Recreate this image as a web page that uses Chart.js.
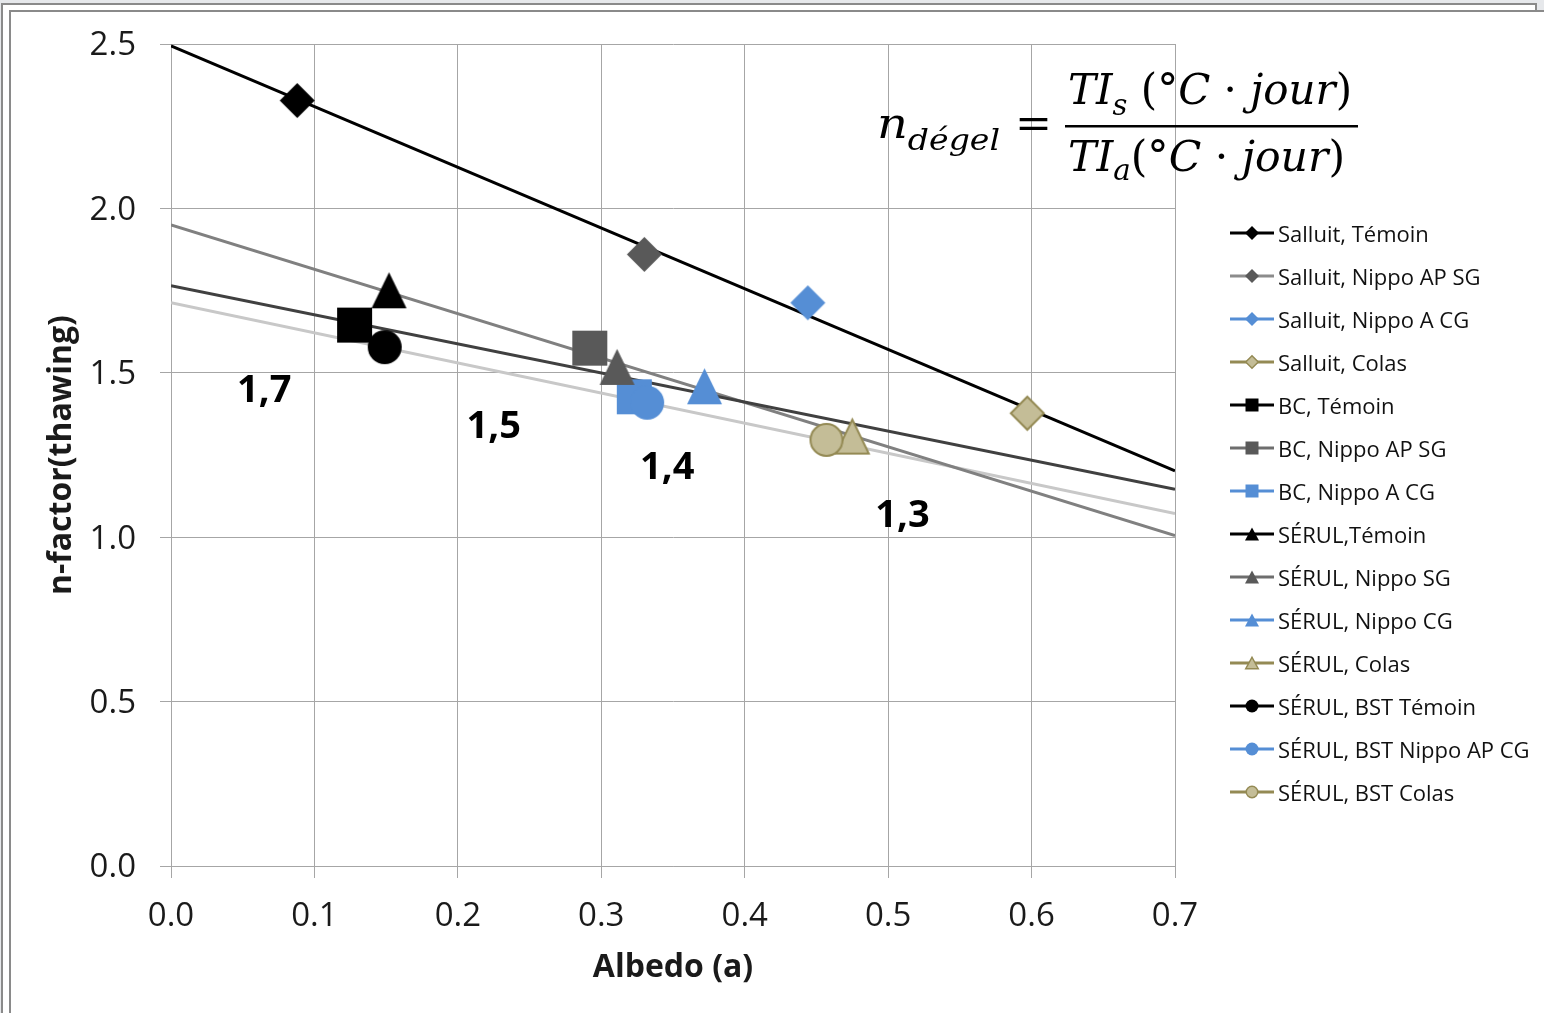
<!DOCTYPE html>
<html lang="fr">
<head>
<meta charset="utf-8">
<title>n-factor (thawing) vs albedo</title>
<script src="https://cdn.jsdelivr.net/npm/chart.js@4.4.1/dist/chart.umd.min.js"></script>
<style>
  html, body { margin: 0; padding: 0; width: 1544px; height: 1013px; overflow: hidden; background: #e6e8eb; font-family: 'Open Sans', sans-serif; }
  #frame-outer { position: absolute; left: 1px; top: 3px; width: 1532px; height: 1030px; border: 2px solid #8a8a8a; background: #fff; }
  #frame-inner { position: absolute; left: 9px; top: 10px; width: 1560px; height: 1030px; border: 2px solid #8a8a8a; background: #fff; }
  #chart { position: absolute; left: 0; top: 0; }
  #legend { position: absolute; left: 1230px; top: 211px; margin: 0; padding: 0; list-style: none; }
  #legend li { height: 43px; display: flex; align-items: center; font-size: 22px; color: #111; white-space: nowrap; }
  #legend canvas { margin-right: 4px; }
</style>
</head>
<body>
<div id="frame-outer"></div>
<div id="frame-inner"></div>
<canvas id="chart" width="1544" height="1013"></canvas>
<ul id="legend"></ul>
<script>
// ── Data ──
const seriesNames = [
  'Salluit, Témoin', 'Salluit, Nippo AP SG', 'Salluit, Nippo A CG', 'Salluit, Colas',
  'BC, Témoin', 'BC, Nippo AP SG', 'BC, Nippo A CG',
  'SÉRUL,Témoin', 'SÉRUL, Nippo SG', 'SÉRUL, Nippo CG', 'SÉRUL, Colas',
  'SÉRUL, BST Témoin', 'SÉRUL, BST Nippo AP CG', 'SÉRUL, BST Colas'
];
const albedo  = [0.088, 0.330, 0.444, 0.597, 0.128, 0.292, 0.323, 0.152, 0.311, 0.372, 0.475, 0.149, 0.332, 0.457];
const nFactor = [2.328, 1.860, 1.713, 1.377, 1.645, 1.575, 1.427, 1.751, 1.518, 1.459, 1.306, 1.578, 1.409, 1.296];

// linear trend lines, value at albedo 0 and at albedo 0.7
const trendX     = [0, 0.7];
const trendNames = ['Salluit', 'BC', 'SÉRUL', 'SÉRUL, BST'];
const trendStart = [2.494, 1.765, 1.950, 1.713];
const trendEnd   = [1.202, 1.146, 1.005, 1.072];

// bold n-factor labels written on the plot
const noteText = ['1,7', '1,5', '1,4', '1,3'];
const noteX    = [0.065, 0.225, 0.346, 0.510];
const noteY    = [1.444, 1.334, 1.210, 1.063];

const xTicks = [0, 0.1, 0.2, 0.3, 0.4, 0.5, 0.6, 0.7];
const yTicks = [0, 0.5, 1.0, 1.5, 2.0, 2.5];

// ── Styles ──
const BLACK = '#000000', DGRAY = '#595959', BLUE = '#558ed5', TAN = '#c4bd97', TAN_EDGE = '#948a54';
const markerShapes = ['diamond', 'diamond', 'diamond', 'diamond', 'square', 'square', 'square',
                      'triangle', 'triangle', 'triangle', 'triangle', 'circle', 'circle', 'circle'];
const markerFills  = [BLACK, DGRAY, BLUE, TAN, BLACK, DGRAY, BLUE, BLACK, DGRAY, BLUE, TAN, BLACK, BLUE, TAN];
const markerEdges  = [null, null, null, TAN_EDGE, null, null, null, null, null, null, TAN_EDGE, null, null, TAN_EDGE];
const legendLines  = [BLACK, '#8c8c8c', BLUE, TAN_EDGE, BLACK, '#6e6e6e', BLUE, BLACK, '#6e6e6e', BLUE, TAN_EDGE, BLACK, BLUE, TAN_EDGE];
const trendColors  = ['#000000', '#404040', '#808080', '#c8c8c8'];

const chartSize  = { diamond: [35, 35], square: [35, 35], triangle: [35, 36], circle: [34, 34] };
const legendSize = { diamond: [14, 14], square: [13, 13], triangle: [14, 13], circle: [13, 13] };

function shapePath(ctx, shape, cx, cy, w, h) {
  ctx.beginPath();
  if (shape === 'diamond') {
    ctx.moveTo(cx, cy - h / 2); ctx.lineTo(cx + w / 2, cy);
    ctx.lineTo(cx, cy + h / 2); ctx.lineTo(cx - w / 2, cy);
  } else if (shape === 'square') {
    ctx.rect(cx - w / 2, cy - h / 2, w, h);
  } else if (shape === 'triangle') {
    ctx.moveTo(cx, cy - h / 2); ctx.lineTo(cx + w / 2, cy + h / 2); ctx.lineTo(cx - w / 2, cy + h / 2);
  } else {
    ctx.arc(cx, cy, w / 2, 0, Math.PI * 2);
  }
  ctx.closePath();
}

function makeMarker(shape, fill, edge, size) {
  const [w, h] = size;
  const c = document.createElement('canvas');
  c.width = w + 4; c.height = h + 4;
  const ctx = c.getContext('2d');
  shapePath(ctx, shape, c.width / 2, c.height / 2, edge ? w - 2 : w, edge ? h - 2 : h);
  ctx.fillStyle = fill; ctx.fill();
  if (edge) { ctx.strokeStyle = edge; ctx.lineWidth = 2; ctx.stroke(); }
  return c;
}

// ── Legend (html) ──
const legendEl = document.getElementById('legend');
seriesNames.forEach((name, i) => {
  const li = document.createElement('li');
  const icon = document.createElement('canvas');
  icon.width = 44; icon.height = 20;
  const ictx = icon.getContext('2d');
  ictx.strokeStyle = legendLines[i]; ictx.lineWidth = 3;
  ictx.beginPath(); ictx.moveTo(0, 10); ictx.lineTo(44, 10); ictx.stroke();
  const [w, h] = legendSize[markerShapes[i]];
  const e = markerEdges[i];
  shapePath(ictx, markerShapes[i], 22, 10, e ? w - 1.5 : w, e ? h - 1.5 : h);
  ictx.fillStyle = markerFills[i]; ictx.fill();
  if (e) { ictx.strokeStyle = e; ictx.lineWidth = 1.5; ictx.stroke(); }
  li.appendChild(icon);
  li.appendChild(document.createTextNode(name));
  legendEl.appendChild(li);
});

// ── Formula + labels ──
function drawRun(ctx, runs, x0, baseline, targetWidth) {
  let w = 0;
  runs.forEach(r => { ctx.font = r[1]; w += ctx.measureText(r[0]).width; });
  const sx = targetWidth ? targetWidth / w : 1;
  ctx.save();
  ctx.translate(x0, baseline);
  ctx.scale(sx, 1);
  let cx = 0;
  runs.forEach(r => {
    ctx.font = r[1];
    ctx.fillText(r[0], cx, r[2]);
    cx += ctx.measureText(r[0]).width;
  });
  ctx.restore();
}

const notesPlugin = {
  id: 'notes',
  afterDatasetsDraw(chart) {
    const { ctx, scales: { x, y } } = chart;
    ctx.save();
    ctx.fillStyle = '#000';
    ctx.font = 'bold 38px "Open Sans"';
    ctx.textAlign = 'center';
    ctx.textBaseline = 'middle';
    noteText.forEach((t, i) => {
      ctx.fillText(t, x.getPixelForValue(noteX[i]), y.getPixelForValue(noteY[i]));
    });

    // n_dégel = TI_s / TI_a
    const IT = 'italic 42px "DejaVu Serif"', UP = '42px "DejaVu Serif"', SUB = 'italic 29px "DejaVu Serif"';
    ctx.textAlign = 'left';
    ctx.textBaseline = 'alphabetic';
    drawRun(ctx, [['n', IT, 0], ['dégel', SUB, 12]], 877, 138, 123);
    drawRun(ctx, [['=', UP, 0]], 1015, 138, 37);
    drawRun(ctx, [['TI', IT, 0], ['s', SUB, 11], [' (', UP, 0], ['°', UP, 0], ['C', IT, 0],
                  [' · ', UP, 0], ['jour', IT, 0], [')', UP, 0]], 1068, 104, 284);
    ctx.fillRect(1065, 125, 293, 2.5);
    drawRun(ctx, [['TI', IT, 0], ['a', SUB, 9], ['(', UP, 0], ['°', UP, 0], ['C', IT, 0],
                  [' · ', UP, 0], ['jour', IT, 0], [')', UP, 0]], 1068, 171, 277);
    ctx.restore();
  }
};

// ── Chart ──
Chart.defaults.font.family = "'Open Sans', sans-serif";
Chart.defaults.color = '#1a1a1a';

const pointSets = seriesNames.map((name, i) => ({
  label: name,
  data: [{ x: albedo[i], y: nFactor[i] }],
  pointStyle: makeMarker(markerShapes[i], markerFills[i], markerEdges[i], chartSize[markerShapes[i]]),
  pointRadius: 17,
  showLine: false,
  order: -i
}));

const trendSets = trendNames.map((name, i) => ({
  label: 'Linéaire (' + name + ')',
  data: trendX.map((xv, k) => ({ x: xv, y: k === 0 ? trendStart[i] : trendEnd[i] })),
  showLine: true,
  borderColor: trendColors[i],
  borderWidth: 3,
  pointRadius: 0,
  fill: false,
  order: 100 + i
}));

const gridColor = '#a6a6a6';

new Chart(document.getElementById('chart'), {
  type: 'scatter',
  data: { datasets: pointSets.concat(trendSets) },
  options: {
    responsive: false,
    animation: false,
    events: [],
    layout: { padding: { top: 44, right: 369, bottom: 0, left: 0 } },
    plugins: { legend: { display: false }, tooltip: { enabled: false } },
    scales: {
      x: {
        type: 'linear',
        min: xTicks[0],
        max: xTicks[xTicks.length - 1],
        afterBuildTicks: s => { s.ticks = xTicks.map(v => ({ value: v })); },
        afterFit: s => { s.height = 147; },
        ticks: { callback: v => v.toFixed(1), font: { size: 33 }, color: '#1a1a1a', padding: 19, maxRotation: 0 },
        grid: { color: gridColor, lineWidth: 1, tickLength: 12 },
        border: { color: gridColor },
        title: { display: true, text: 'Albedo (a)', font: { size: 32, weight: 'bold' }, color: '#1a1a1a', padding: { top: 0, bottom: 26 } }
      },
      y: {
        type: 'linear',
        min: yTicks[0],
        max: yTicks[yTicks.length - 1],
        afterBuildTicks: s => { s.ticks = yTicks.map(v => ({ value: v })); },
        afterFit: s => { s.width = 171; },
        ticks: { callback: v => v.toFixed(1), font: { size: 33 }, color: '#1a1a1a', padding: 24, labelOffset: 2 },
        grid: { color: gridColor, lineWidth: 1, tickLength: 11 },
        border: { color: gridColor },
        title: { display: true, text: 'n-factor(thawing)', font: { size: 32, weight: 'bold' }, color: '#1a1a1a', padding: { top: 43, bottom: 0 } }
      }
    }
  },
  plugins: [notesPlugin]
});
</script>
</body>
</html>
